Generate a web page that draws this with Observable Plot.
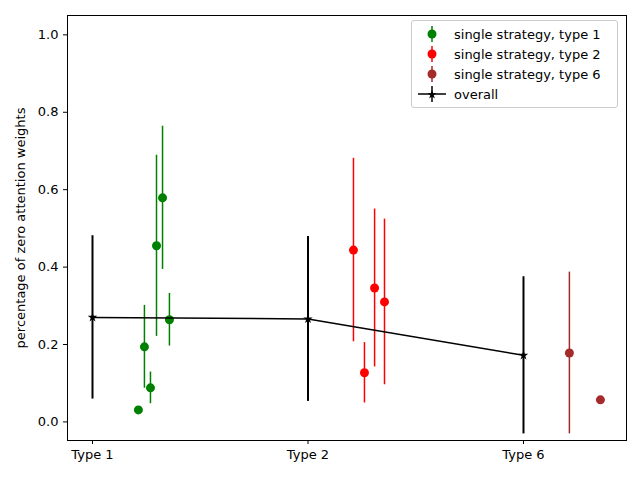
<!DOCTYPE html>
<html><head>
<script src="https://cdn.jsdelivr.net/npm/d3@7"></script>
<script src="https://cdn.jsdelivr.net/npm/@observablehq/plot@0.6"></script>
<style>body{margin:0;font-family:"DejaVu Sans",sans-serif}#wrap{position:relative;width:640px;height:480px}
#leg{position:absolute;left:411px;top:20px;width:207px;border:1px solid #ccc;border-radius:3px;background:#fff;font-size:13px;padding:3px 6px;box-sizing:border-box}
#leg div{display:flex;align-items:center;height:20px}#leg svg{margin-right:8px}</style>
</head><body><div id="wrap"><div id="leg"></div></div>
<script>
const typeLabels = ["Type 1","Type 2","Type 6"];
const t1x = [0.213,0.241,0.269,0.297,0.325,0.357];
const t1y = [0.031,0.194,0.088,0.455,0.579,0.264];
const t1e = [0,0.107,0.041,0.234,0.185,0.068];
const t2x = [1.211,1.262,1.309,1.355];
const t2y = [0.444,0.127,0.346,0.310];
const t2e = [0.237,0.078,0.204,0.214];
const t6x = [2.213,2.357];
const t6y = [0.178,0.057];
const t6e = [0.209,0];
const allx = [0,1,2];
const ally = [0.270,0.266,0.172];
const alle = [0.211,0.213,0.203];
const mk=(xs,ys,es)=>xs.map((x,i)=>({x,y:ys[i],e:es[i]}));
const series=[
 {d:mk(t1x,t1y,t1e),c:"green",n:"single strategy, type 1"},
 {d:mk(t2x,t2y,t2e),c:"red",n:"single strategy, type 2"},
 {d:mk(t6x,t6y,t6e),c:"brown",n:"single strategy, type 6"}];
const overall=mk(allx,ally,alle);
const marks=[Plot.frame()];
for(const s of series){
 marks.push(Plot.ruleX(s.d.filter(d=>d.e>0),{x:"x",y1:d=>d.y-d.e,y2:d=>d.y+d.e,stroke:s.c,strokeWidth:1.5}));
 marks.push(Plot.dot(s.d,{x:"x",y:"y",fill:s.c,r:4.5}));
}
marks.push(Plot.ruleX(overall,{x:"x",y1:d=>d.y-d.e,y2:d=>d.y+d.e,stroke:"black",strokeWidth:2}));
marks.push(Plot.line(overall,{x:"x",y:"y",stroke:"black",strokeWidth:1.5}));
marks.push(Plot.dot(overall,{x:"x",y:"y",fill:"black",symbol:"star",r:3}));
const p=Plot.plot({width:640,height:480,marginLeft:67,marginRight:14,marginTop:15,marginBottom:40,
 style:{fontSize:"13px",fontFamily:"DejaVu Sans"},
 x:{domain:[-0.116,2.478],ticks:allx,tickFormat:i=>typeLabels[i],label:null,tickSize:4},
 y:{domain:[-0.048,1.05],ticks:[0,0.2,0.4,0.6,0.8,1.0],tickFormat:d3.format(".1f"),label:"percentage of zero attention weights",labelAnchor:"center",labelArrow:"none",labelOffset:52,tickSize:4},
 marks});
document.getElementById("wrap").prepend(p);
const leg=document.getElementById("leg");
for(const s of [...series,{c:"black",n:"overall",star:true}]){
 const row=document.createElement("div");
 row.innerHTML=`<svg width="28" height="18">${s.star?'<line x1="0" x2="28" y1="9" y2="9" stroke="black" stroke-width="1.5"/>':''}<line x1="14" x2="14" y1="1" y2="17" stroke="${s.c}" stroke-width="1.5"/>${s.star?'<path d="M14,5 L15.2,8.2 L18.5,8.2 L15.8,10.2 L16.8,13.5 L14,11.5 L11.2,13.5 L12.2,10.2 L9.5,8.2 L12.8,8.2Z" fill="black"/>':`<circle cx="14" cy="9" r="4.5" fill="${s.c}"/>`}</svg><span>${s.n}</span>`;
 leg.appendChild(row);
}
</script></body></html>
